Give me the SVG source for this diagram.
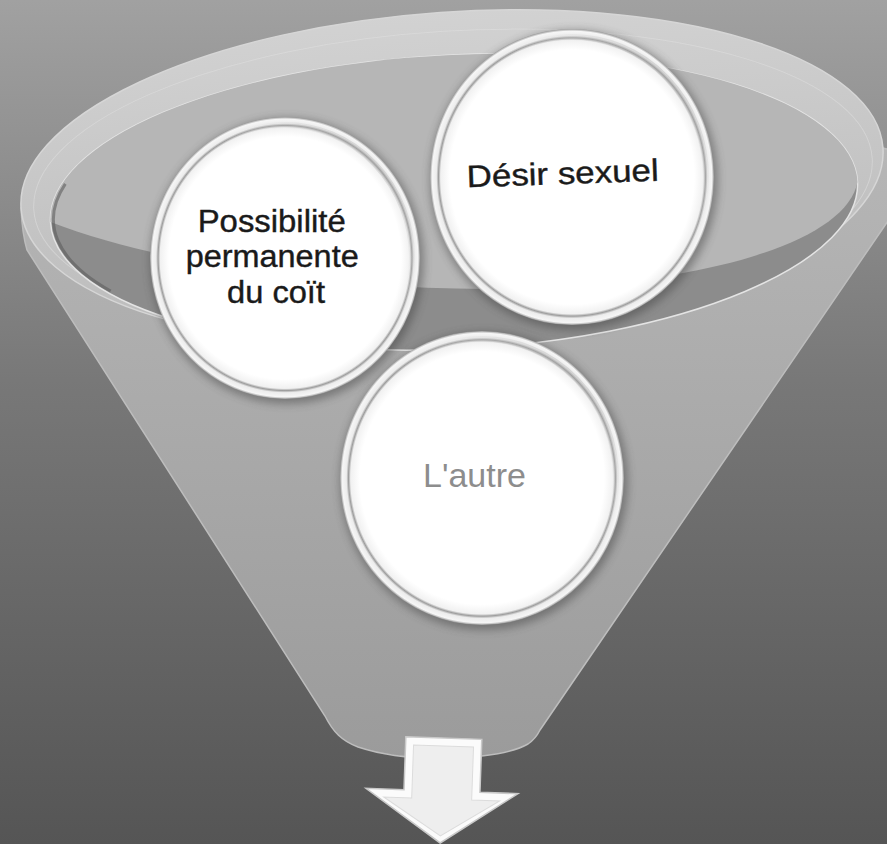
<svg xmlns="http://www.w3.org/2000/svg" width="887" height="844" viewBox="0 0 887 844">
<style>
.lbl{font-family:"Liberation Sans",Arial,sans-serif;text-anchor:middle}
.dark{fill:#1a1a1a;stroke:#1a1a1a;stroke-width:0.4}
.light{fill:#8d8d8d}
.disc{fill:url(#disc)}
.shade{fill:none;stroke:url(#edge);stroke-width:6}
.shadow{fill:#3a3a3a;opacity:.45;filter:url(#blur)}
</style>
<defs>
  <linearGradient id="bg" x1="0" y1="0" x2="0" y2="1">
    <stop offset="0" stop-color="#a1a1a1"/>
    <stop offset="0.45" stop-color="#787878"/>
    <stop offset="1" stop-color="#555555"/>
  </linearGradient>
  <linearGradient id="body" gradientUnits="userSpaceOnUse" x1="0" y1="150" x2="0" y2="760">
    <stop offset="0" stop-color="#b6b6b6"/>
    <stop offset="1" stop-color="#9b9b9b"/>
  </linearGradient>
  <linearGradient id="rim" gradientUnits="userSpaceOnUse" x1="0" y1="10" x2="0" y2="350">
    <stop offset="0" stop-color="#d2d2d2"/>
    <stop offset="1" stop-color="#b9b9b9"/>
  </linearGradient>
  <radialGradient id="disc" cx="0.5" cy="0.5" r="0.5">
    <stop offset="0" stop-color="#ffffff"/>
    <stop offset="0.86" stop-color="#ffffff"/>
    <stop offset="0.925" stop-color="#f1f1f1"/>
    <stop offset="0.94" stop-color="#9d9d9d"/>
    <stop offset="0.955" stop-color="#ececec"/>
    <stop offset="0.985" stop-color="#f6f6f6"/>
    <stop offset="1" stop-color="#9a9a9a"/>
  </radialGradient>
  <linearGradient id="edge" x1="0" y1="1" x2="1" y2="0">
    <stop offset="0" stop-color="#ffffff" stop-opacity="0"/>
    <stop offset="0.6" stop-color="#ffffff" stop-opacity="0"/>
    <stop offset="1" stop-color="#777777" stop-opacity="0.55"/>
  </linearGradient>
  <filter id="blur" x="-20%" y="-20%" width="140%" height="140%">
    <feGaussianBlur stdDeviation="4"/>
  </filter>
</defs>

<rect x="0" y="0" width="887" height="844" fill="url(#bg)"/>

<g id="funnel">
  <path d="M21,208 C22,228 24,240 27,250 L325,716 C333,732 342,741 358,747 C385,756 420,759 450,758 C485,757 512,753 528,744 C534,740 537,736 540,730 L890,218 L890,150 L883,148 Z" fill="url(#body)" stroke="#bdbdbd" stroke-width="1.5"/>
  <ellipse cx="452" cy="178" rx="432" ry="166" transform="rotate(-4 452 178)" fill="url(#rim)" stroke="#d6d6d6" stroke-width="1.5"/>
  <ellipse cx="453" cy="184" rx="420" ry="153" transform="rotate(-3.5 453 184)" fill="none" stroke="#e2e2e2" stroke-width="1" opacity="0.5"/>
  <g transform="rotate(-2.83 454 202)">
    <ellipse cx="454" cy="202" rx="404" ry="147" fill="#8c8c8c" stroke="#e4e4e4" stroke-width="1.5"/>
    <path d="M50,202 A404,147 0 0 1 858,202 C845,255 730,290 560,292 C380,294 170,255 50,202 Z" fill="#b6b6b6"/>
    <path d="M66.7,164.7 A401,144 0 0 0 106.7,274" fill="none" stroke="#5e5e5e" stroke-width="3" opacity="0.6"/>
  </g>
</g>

<g id="node-autre">
  <ellipse class="shadow" cx="484" cy="481" rx="144" ry="149"/>
  <ellipse class="disc" cx="482" cy="478" rx="142" ry="147"/>
  <ellipse class="shade" cx="482" cy="478" rx="134" ry="139"/>
  <text class="lbl light" x="474.5" y="487" font-size="34">L'autre</text>
</g>

<g id="node-possibilite">
  <ellipse class="shadow" cx="287" cy="261" rx="137" ry="143"/>
  <ellipse class="disc" cx="285" cy="258" rx="135" ry="141"/>
  <ellipse class="shade" cx="285" cy="258" rx="127" ry="133"/>
  <text class="lbl dark" font-size="31">
    <tspan x="276" y="232" textLength="148" lengthAdjust="spacingAndGlyphs">Possibilité</tspan>
    <tspan x="276.5" y="267" textLength="173" lengthAdjust="spacingAndGlyphs">permanente</tspan>
    <tspan x="276" y="303" textLength="98" lengthAdjust="spacingAndGlyphs">du coït</tspan>
  </text>
</g>

<g id="node-desir">
  <ellipse class="shadow" cx="574" cy="180" rx="144" ry="150"/>
  <ellipse class="disc" cx="572" cy="177" rx="142" ry="148"/>
  <ellipse class="shade" cx="572" cy="177" rx="134" ry="140"/>
  <text class="lbl dark" x="563" y="184" font-size="31" textLength="192" lengthAdjust="spacingAndGlyphs" transform="rotate(-2 563 184)">Désir sexuel</text>
</g>

<g id="connectors">
  <g transform="rotate(2 442 790)">
    <path d="M404,738 L480,738 L480,791 L518,791 L442,843 L366,791 L404,791 Z" fill="#fbfbfb" stroke="#c9c9c9" stroke-width="1.5"/>
    <path d="M412,746 L472,746 L472,799 L500,799 L442,836 L384,799 L412,799 Z" fill="#eeeeee" stroke="#dcdcdc" stroke-width="1"/>
  </g>
</g>
</svg>
